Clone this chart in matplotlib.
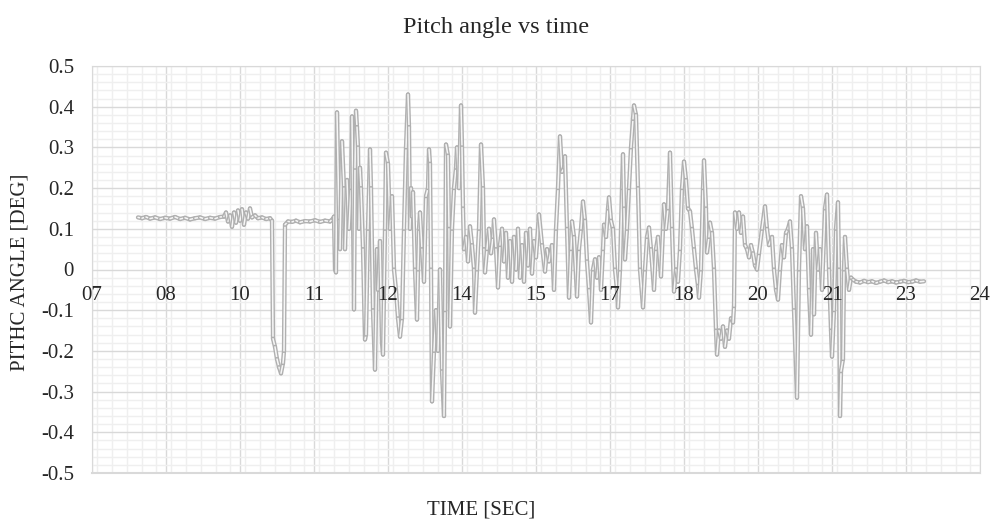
import matplotlib
matplotlib.use("Agg")
import matplotlib.pyplot as plt
from matplotlib.ticker import MultipleLocator, FixedLocator, NullFormatter
import numpy as np

plt.rcParams['font.family'] = ['Liberation Serif', 'DejaVu Serif']

# time axis labels (seconds part of the timestamp, as shown)
tick_labels = ['07', '08', '10', '11', '12', '14', '15', '17', '18', '20', '21', '23', '24']
t_start = 7.0
t_step = 1.48
y_labels = ['-0.5', '-0.4', '-0.3', '-0.2', '-0.1', '0', '0.1', '0.2', '0.3', '0.4', '0.5']

# settled part before the manoeuvre
t_calm = [7.92, 8.00, 8.08, 8.16, 8.26, 8.36, 8.46, 8.56, 8.66, 8.76, 8.86, 8.96, 9.06, 9.16,
          9.26, 9.36, 9.46, 9.56, 9.64, 9.68, 9.72, 9.76, 9.80, 9.84, 9.88, 9.92, 9.96, 10.00,
          10.04, 10.08, 10.12, 10.16, 10.20, 10.26, 10.32, 10.40, 10.48, 10.56, 10.60, 10.62,
          10.66, 10.70, 10.74, 10.78, 10.82, 10.84, 10.86, 10.92, 11.00, 11.08, 11.16, 11.26,
          11.36, 11.46, 11.56, 11.66, 11.76, 11.82]
pitch_calm = [0.128, 0.126, 0.129, 0.125, 0.128, 0.124, 0.127, 0.125, 0.129, 0.124, 0.127, 0.123,
              0.126, 0.128, 0.124, 0.127, 0.125, 0.129, 0.130, 0.140, 0.118, 0.133, 0.105, 0.140,
              0.115, 0.145, 0.120, 0.148, 0.110, 0.140, 0.125, 0.150, 0.128, 0.133, 0.126, 0.128,
              0.124, 0.126, 0.120, -0.170, -0.190, -0.220, -0.240, -0.255, -0.230, -0.200, 0.110,
              0.118, 0.117, 0.120, 0.116, 0.119, 0.118, 0.121, 0.117, 0.120, 0.118, 0.125]

# oscillating part
t_wave = [11.84, 11.86, 11.88, 11.90, 11.94, 11.96, 12.00, 12.04, 12.06, 12.10, 12.14, 12.18,
          12.20, 12.24, 12.26, 12.28, 12.30, 12.32, 12.34, 12.36, 12.38, 12.42, 12.46, 12.48,
          12.52, 12.56, 12.58, 12.62, 12.66, 12.70, 12.72, 12.76, 12.80, 12.82, 12.86, 12.88,
          12.92, 12.96, 13.00, 13.04, 13.08, 13.12, 13.16, 13.20, 13.24, 13.28, 13.32, 13.34,
          13.36, 13.38, 13.40, 13.42, 13.46, 13.50, 13.52, 13.54, 13.56, 13.60, 13.64, 13.68,
          13.72, 13.74, 13.76, 13.78, 13.80, 13.84, 13.88, 13.92, 13.96, 14.00, 14.04, 14.06,
          14.08, 14.12, 14.14, 14.16, 14.20, 14.24, 14.28, 14.30, 14.34, 14.38, 14.40, 14.42,
          14.44, 14.48, 14.52, 14.56, 14.60, 14.64, 14.66, 14.70, 14.74, 14.78, 14.82, 14.84,
          14.86, 14.90, 14.94, 14.98, 15.02, 15.04, 15.08, 15.12, 15.16, 15.20, 15.24, 15.28,
          15.32, 15.36, 15.40, 15.44, 15.48, 15.52, 15.56, 15.60, 15.64, 15.68, 15.72, 15.76,
          15.80, 15.84, 15.88, 15.94, 16.00, 16.06, 16.10, 16.14, 16.20, 16.24, 16.28, 16.32,
          16.36, 16.40, 16.44, 16.46, 16.50, 16.54, 16.58, 16.60, 16.64, 16.70, 16.74, 16.78,
          16.82, 16.86, 16.90, 16.94, 16.98, 17.02, 17.06, 17.10, 17.14, 17.18, 17.22, 17.24,
          17.28, 17.32, 17.34, 17.38, 17.42, 17.46, 17.50, 17.52, 17.56, 17.60, 17.62, 17.64,
          17.66, 17.70, 17.74, 17.78, 17.82, 17.84, 17.88, 17.92, 17.96, 18.02, 18.06, 18.10,
          18.14, 18.18, 18.24, 18.28, 18.32, 18.38, 18.42, 18.44, 18.48, 18.52, 18.56, 18.60,
          18.64, 18.68, 18.72, 18.76, 18.80, 18.84, 18.88, 18.92, 18.96, 19.00, 19.04, 19.08,
          19.12, 19.14, 19.18, 19.22, 19.24, 19.28, 19.30, 19.34, 19.36, 19.40, 19.44, 19.48,
          19.50, 19.54, 19.58, 19.62, 19.66, 19.70, 19.74, 19.78, 19.82, 19.84, 19.86, 19.90,
          19.94, 19.98, 20.02, 20.06, 20.10, 20.14, 20.18, 20.22, 20.26, 20.30, 20.34, 20.40,
          20.46, 20.50, 20.54, 20.60, 20.64, 20.68, 20.72, 20.76, 20.80, 20.84, 20.88, 20.92,
          20.96, 21.00, 21.04, 21.10, 21.14, 21.18, 21.22, 21.26, 21.30, 21.34, 21.38, 21.42,
          21.44, 21.48, 21.52, 21.56, 21.60, 21.66, 21.70, 21.74, 21.78, 21.80, 21.84, 21.88,
          21.92, 21.94, 21.96, 21.98, 22.02, 22.04, 22.06, 22.10, 22.14, 22.18, 22.22]
pitch_wave = [0.130, 0.000, -0.007, 0.386, 0.120, 0.050, 0.315, 0.200, 0.050, 0.220, 0.100, 0.200,
              0.376, -0.098, 0.250, 0.390, 0.350, 0.300, 0.100, 0.250, 0.200, 0.050, -0.172, -0.160,
              0.100, 0.295, 0.200, -0.100, -0.246, 0.050, -0.050, 0.070, -0.180, -0.209, 0.100, 0.287,
              0.260, 0.100, 0.180, 0.000, -0.050, -0.120, -0.165, -0.120, 0.100, 0.300, 0.430, 0.350,
              0.100, 0.200, 0.130, 0.190, 0.000, -0.123, 0.000, 0.100, 0.140, 0.050, -0.030, 0.180,
              0.200, 0.295, 0.260, 0.000, -0.324, -0.200, -0.100, -0.200, 0.000, -0.250, -0.360, -0.100,
              0.307, 0.280, 0.100, -0.140, 0.100, 0.200, 0.250, 0.300, 0.200, 0.403, 0.300, 0.150,
              0.050, 0.080, 0.020, 0.106, 0.060, 0.000, -0.106, 0.000, 0.100, 0.307, 0.200, 0.050,
              -0.007, 0.050, 0.100, 0.040, 0.080, 0.123, 0.050, -0.044, 0.060, 0.100, 0.020, 0.090,
              -0.020, 0.070, -0.030, 0.080, 0.000, 0.100, -0.020, 0.060, -0.030, 0.090, 0.010, 0.100,
              -0.010, 0.070, 0.030, 0.135, 0.060, -0.005, 0.050, 0.020, 0.060, -0.050, 0.100, 0.200,
              0.327, 0.240, 0.250, 0.278, 0.100, -0.069, 0.050, 0.118, 0.080, -0.066, 0.050, 0.100,
              0.167, 0.120, 0.020, -0.050, -0.130, 0.000, 0.025, -0.020, 0.030, -0.050, 0.050, 0.110,
              0.080, 0.150, 0.177, 0.120, 0.100, 0.000, -0.050, -0.093, 0.000, 0.200, 0.283, 0.150,
              0.025, 0.100, 0.200, 0.300, 0.370, 0.403, 0.380, 0.200, 0.000, -0.093, 0.000, 0.080,
              0.103, 0.050, -0.050, 0.050, 0.080, -0.017, 0.100, 0.160, 0.100, 0.150, 0.287, 0.100,
              -0.054, 0.000, -0.030, 0.050, 0.200, 0.265, 0.220, 0.150, 0.143, 0.100, 0.050, 0.000,
              -0.040, -0.069, 0.000, 0.200, 0.268, 0.150, 0.042, 0.080, 0.115, 0.090, 0.000, -0.150,
              -0.209, -0.150, -0.170, -0.140, -0.190, -0.150, -0.170, -0.120, -0.130, -0.090, 0.140, 0.100,
              0.140, 0.090, 0.130, 0.060, 0.050, 0.030, 0.060, 0.040, 0.010, 0.000, 0.040, 0.100,
              0.155, 0.100, 0.060, 0.080, 0.000, -0.050, -0.074, 0.000, 0.060, 0.030, 0.090, 0.100,
              0.118, 0.050, -0.100, -0.315, 0.000, 0.180, 0.150, 0.050, 0.106, -0.050, -0.160, 0.050,
              -0.110, 0.090, 0.000, 0.050, -0.050, 0.150, 0.184, 0.000, -0.150, -0.214, -0.100, 0.100,
              0.165, 0.000, -0.360, -0.250, -0.220, 0.000, 0.080, 0.000, -0.050, -0.020, -0.025]

# settled part after the manoeuvre
t_end = [22.28, 22.36, 22.44, 22.52, 22.60, 22.68, 22.76, 22.84, 22.92, 23.00, 23.08, 23.16,
         23.24, 23.32, 23.40, 23.48, 23.56, 23.64]
pitch_end = [-0.030, -0.032, -0.028, -0.031, -0.029, -0.033, -0.030, -0.027, -0.031, -0.029,
             -0.032, -0.030, -0.028, -0.031, -0.030, -0.027, -0.030, -0.029]

t = np.array(t_calm + t_wave + t_end)
pitch = np.array(pitch_calm + pitch_wave + pitch_end)

fig = plt.figure(figsize=(9.92, 5.21), dpi=100)
fig.patch.set_facecolor('white')
ax = fig.add_axes([92 / 992, 1 - 473 / 521, 888 / 992, 407 / 521])

# hollow (double) grey line, drawn segment by segment like the spreadsheet does
for i in range(len(t) - 1):
    ax.plot(t[i:i + 2], pitch[i:i + 2], color='#b0b0b0', lw=3.1,
            solid_capstyle='round', solid_joinstyle='round', zorder=3)
    ax.plot(t[i:i + 2], pitch[i:i + 2], color='#f7f7f7', lw=1.1,
            solid_capstyle='round', zorder=3)

x_ticks = [t_start + k * t_step for k in range(len(tick_labels))]
ax.set_xlim(x_ticks[0], x_ticks[-1])
ax.set_ylim(-0.5, 0.5)
ax.xaxis.set_major_locator(FixedLocator(x_ticks))
ax.xaxis.set_major_formatter(NullFormatter())
ax.xaxis.set_minor_locator(MultipleLocator(t_step / 5))
ax.set_yticks(np.round(np.arange(-0.5, 0.51, 0.1), 1))
ax.set_yticklabels(y_labels)
ax.yaxis.set_minor_locator(MultipleLocator(0.02))

ax.grid(which='major', color='#d9d9d9', lw=1.0, zorder=0)
ax.grid(which='minor', color='#efefef', lw=1.0, zorder=0)
ax.set_axisbelow(True)

ax.tick_params(which='both', length=0)
ax.tick_params(axis='y', pad=13, labelsize=15, labelcolor='#262626')

# time labels sit just under the zero line, above the trace
for xt, lab in zip(x_ticks, tick_labels):
    ax.annotate(lab, (xt, 0), xytext=(0, -12), textcoords='offset points',
                ha='center', va='top', fontsize=15, color='#262626',
                zorder=6, annotation_clip=False)

for s in ['top', 'left', 'right']:
    ax.spines[s].set_color('#d9d9d9')
ax.spines['bottom'].set_visible(False)
ax.axhline(-0.5, color='#d9d9d9', lw=1.5, clip_on=False, zorder=1)

fig.text(496 / 992, 1 - 28 / 521, 'Pitch angle vs time', ha='center', va='center',
         fontsize=17.5, color='#262626')
fig.text(481 / 992, 1 - 510 / 521, 'TIME [SEC]', ha='center', va='center',
         fontsize=15, color='#262626')
fig.text(20 / 992, 1 - 272 / 521, 'PITHC ANGLE [DEG]', ha='center', va='center',
         rotation=90, fontsize=15, color='#262626')

fig.savefig('out.png', dpi=100)
